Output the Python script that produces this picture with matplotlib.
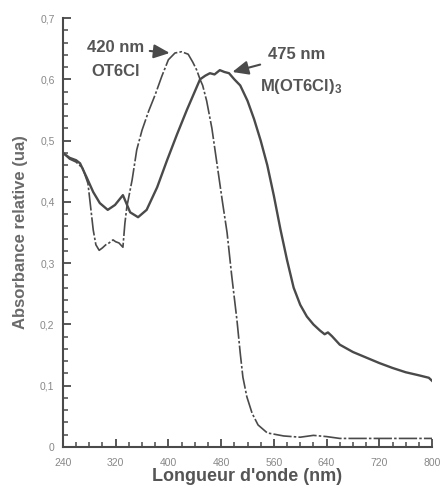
import matplotlib
matplotlib.use("Agg")
import matplotlib.pyplot as plt
from matplotlib.ticker import MultipleLocator, FuncFormatter

# ---------- data ----------
wl_ot6cl = [240, 250, 260, 270, 278, 282, 286, 290, 295, 300, 305, 310, 316, 320, 325, 331,
            334, 337, 345, 352, 360, 370, 380, 390, 400, 410, 420, 430, 437, 443, 448, 452,
            458, 466, 474, 482, 489, 496, 504, 509, 513, 519, 527, 536, 550, 575, 600, 620,
            640, 660, 700, 760, 800]
abs_ot6cl = [0.480, 0.470, 0.465, 0.455, 0.430, 0.392, 0.354, 0.330, 0.321, 0.325, 0.330, 0.333,
             0.338, 0.335, 0.333, 0.326, 0.365, 0.392, 0.436, 0.485, 0.517, 0.548, 0.575, 0.605,
             0.632, 0.643, 0.645, 0.641, 0.628, 0.615, 0.600, 0.590, 0.565, 0.520, 0.460, 0.400,
             0.350, 0.280, 0.207, 0.153, 0.114, 0.082, 0.055, 0.036, 0.023, 0.018, 0.016, 0.019,
             0.017, 0.014, 0.014, 0.014, 0.014]

wl_complex = [240, 250, 260, 266, 276, 286, 296, 308, 319, 331, 342, 354, 367, 383, 398, 413,
              428, 440, 448, 456, 463, 470, 478, 485, 492, 500, 509, 520, 530, 540, 550, 560,
              570, 580, 590, 600, 610, 620, 630, 637, 642, 648, 660, 680, 700, 720, 740, 760,
              780, 795, 800]
abs_complex = [0.480, 0.472, 0.468, 0.463, 0.440, 0.416, 0.398, 0.387, 0.395, 0.411, 0.383, 0.375,
               0.387, 0.424, 0.468, 0.510, 0.550, 0.580, 0.600, 0.606, 0.610, 0.608, 0.615, 0.612,
               0.610, 0.600, 0.590, 0.565, 0.535, 0.500, 0.460, 0.410, 0.355, 0.305, 0.260, 0.232,
               0.213, 0.200, 0.190, 0.184, 0.187, 0.181, 0.167, 0.155, 0.146, 0.137, 0.129, 0.122,
               0.117, 0.113, 0.108]

x_ticks = [240, 320, 400, 480, 560, 640, 720, 800]
y_ticks = [0, 0.1, 0.2, 0.3, 0.4, 0.5, 0.6, 0.7]

# ---------- style ----------
plt.rcParams['font.family'] = ['Liberation Sans', 'DejaVu Sans']
plt.rcParams['mathtext.default'] = 'regular'
line_col = '#4a4a4a'
text_col = '#555555'

fig = plt.figure(figsize=(4.4, 4.88), dpi=100)
ax = fig.add_axes([0.143, 0.084, 0.839, 0.879])

ax.plot(wl_complex, abs_complex, color=line_col, lw=1.7, solid_joinstyle='round')
ax.plot(wl_ot6cl, abs_ot6cl, color=line_col, lw=1.2, linestyle=(0, (11, 1.3, 1.5, 1.3)))

ax.set_xlim(240, 800)
ax.set_ylim(0, 0.7)
ax.set_xticks(x_ticks)
ax.set_yticks(y_ticks)
ax.xaxis.set_minor_locator(MultipleLocator(20))
ax.yaxis.set_minor_locator(MultipleLocator(0.02))
ax.yaxis.set_major_formatter(FuncFormatter(lambda v, p: "0" if v == 0 else ("%.1f" % v).replace('.', ',')))

for s in ['top', 'right']:
    ax.spines[s].set_visible(False)
for s in ['left', 'bottom']:
    ax.spines[s].set_color(line_col)
    ax.spines[s].set_linewidth(1.5)

ax.tick_params(which='major', direction='in', length=6, width=1.3, color=line_col,
               labelsize=7.5, labelcolor='#888888')
ax.tick_params(axis='x', which='major', pad=8)
ax.tick_params(axis='y', which='major', pad=6)
ax.tick_params(which='minor', direction='in', length=3.5, width=1.1, color=line_col)

ax.set_xlabel("Longueur d'onde (nm)", fontsize=13, fontweight='bold', color=text_col, labelpad=0)
ax.set_ylabel("Absorbance relative (ua)", fontsize=12, fontweight='bold', color='#6a6a6a',
              labelpad=9)

# ---------- annotations ----------
ax.annotate("420 nm", xy=(402, 0.643), xytext=(320, 0.652), fontsize=12, fontweight='bold',
            color=text_col, ha='center', va='center',
            arrowprops=dict(arrowstyle='-|>,head_length=0.8,head_width=0.35', color=line_col,
                            lw=1.5, shrinkA=2, shrinkB=0))
ax.text(320, 0.612, "OT6Cl", fontsize=12, fontweight='bold', color=text_col, ha='center', va='center')

ax.annotate("475 nm", xy=(497, 0.612), xytext=(595, 0.640), fontsize=12, fontweight='bold',
            color=text_col, ha='center', va='center',
            arrowprops=dict(arrowstyle='-|>,head_length=0.8,head_width=0.35', color=line_col,
                            lw=1.5, shrinkA=4, shrinkB=0))
ax.text(601, 0.589, "M(OT6Cl)$_3$", fontsize=12, fontweight='bold', color=text_col,
        ha='center', va='center')

fig.savefig("out.png", dpi=100)
